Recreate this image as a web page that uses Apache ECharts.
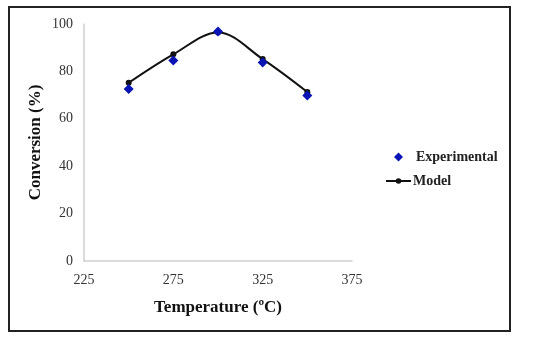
<!DOCTYPE html>
<html><head><meta charset="utf-8">
<script src="https://cdn.jsdelivr.net/npm/echarts@6/dist/echarts.min.js"></script>
<style>html,body{margin:0;padding:0;background:#fff}#c{width:550px;height:341px}</style>
</head><body><div id="c"></div>
<script>
const temperature = [250, 275, 300, 325, 350];
const experimental = [72.6, 84.6, 96.8, 83.8, 69.8];
const model = [75.2, 87.2, 96.4, 85.2, 71.3];
const xTicks = [225, 275, 325, 375];
const yTicks = [0, 20, 40, 60, 80, 100];

const chart = echarts.init(document.getElementById('c'));
const font = '"Liberation Serif", "Times New Roman", serif';
const legendText = {fontFamily: font, fontWeight: 'bold', fontSize: 14, color: '#222'};
chart.setOption({
  animation: false,
  backgroundColor: '#fff',
  graphic: [{type: 'rect', shape: {x: 9, y: 7, width: 501, height: 324}, style: {fill: 'none', stroke: '#222', lineWidth: 2}}],
  grid: {left: 84, right: 198, top: 24, bottom: 80},
  legend: [
    {left: 394, top: 150, padding: 0, itemWidth: 9, itemHeight: 9, icon: 'diamond',
     textStyle: Object.assign({padding: [0, 0, 0, 8]}, legendText), data: ['Experimental']},
    {left: 385, top: 174, padding: 0, itemWidth: 25, itemHeight: 7,
     textStyle: Object.assign({padding: [0, 0, 0, -3]}, legendText), data: ['Model']}
  ],
  xAxis: {
    type: 'value', min: xTicks[0], max: xTicks[xTicks.length - 1], interval: 50,
    splitLine: {show: false}, axisTick: {show: false},
    axisLine: {lineStyle: {color: '#d0d0d0', width: 1.5}},
    axisLabel: {fontFamily: font, fontSize: 14, color: '#333', margin: 12},
    name: 'Temperature (ºC)', nameLocation: 'middle', nameGap: 38,
    nameTextStyle: {fontFamily: font, fontWeight: 'bold', fontSize: 17, color: '#111'}
  },
  yAxis: {
    type: 'value', min: yTicks[0], max: yTicks[yTicks.length - 1], interval: 20,
    splitLine: {show: false}, axisTick: {show: false},
    axisLine: {show: true, lineStyle: {color: '#d0d0d0', width: 1.5}},
    axisLabel: {fontFamily: font, fontSize: 14, color: '#333', margin: 11},
    name: 'Conversion (%)', nameLocation: 'middle', nameGap: 40,
    nameTextStyle: {fontFamily: font, fontWeight: 'bold', fontSize: 17, color: '#111'}
  },
  series: [
    {name: 'Model', type: 'line', smooth: 0.35, data: temperature.map((t, i) => [t, model[i]]),
     symbol: 'circle', symbolSize: 6, itemStyle: {color: '#111'}, lineStyle: {color: '#111', width: 2}, z: 2},
    {name: 'Experimental', type: 'scatter', data: temperature.map((t, i) => [t, experimental[i]]),
     symbol: 'diamond', symbolSize: 10, itemStyle: {color: '#0a14b4', opacity: 1}, z: 3}
  ]
});
</script></body></html>
